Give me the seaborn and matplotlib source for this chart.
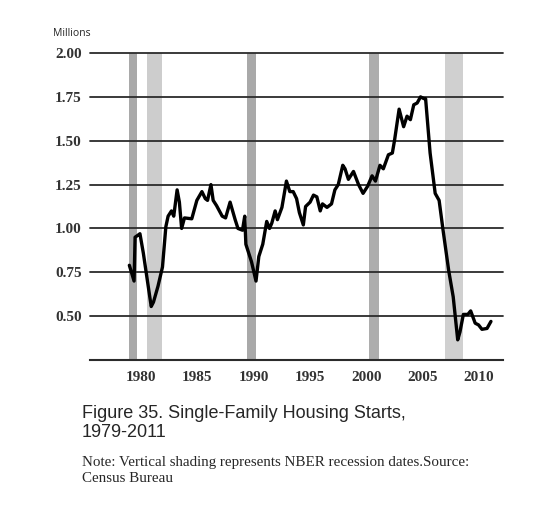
import numpy as np
import pandas as pd
import matplotlib
matplotlib.use("Agg")
import matplotlib.pyplot as plt
import seaborn as sns

# ==========================================
# DATA
# ==========================================
years = [1978.96, 1979.38, 1979.47, 1979.8, 1979.9, 1980.2, 1980.9, 1981.1, 1981.5,
         1981.9, 1982.2, 1982.4, 1982.7, 1982.9, 1983.2, 1983.4, 1983.6, 1983.85,
         1984.5, 1984.95, 1985.4, 1985.7, 1985.9, 1986.2, 1986.4, 1986.7, 1987.2,
         1987.5, 1987.9, 1988.35, 1988.6, 1989.0, 1989.2, 1989.3, 1989.8, 1990.2,
         1990.45, 1990.8, 1991.15, 1991.4, 1991.6, 1991.9, 1992.1, 1992.5, 1992.9,
         1993.2, 1993.5, 1993.8, 1994.05, 1994.4, 1994.6, 1995.0, 1995.3, 1995.6,
         1995.9, 1996.1, 1996.5, 1996.9, 1997.2, 1997.5, 1997.9, 1998.1, 1998.4,
         1998.85, 1999.3, 1999.7, 2000.1, 2000.5, 2000.8, 2001.2, 2001.5, 2001.95,
         2002.3, 2002.5, 2002.9, 2003.3, 2003.6, 2003.9, 2004.2, 2004.5, 2004.8,
         2005.1, 2005.25, 2005.65, 2006.1, 2006.45, 2006.8, 2007.3, 2007.7, 2008.1,
         2008.3, 2008.6, 2009.0, 2009.25, 2009.65, 2009.95, 2010.25, 2010.7, 2011.05]
starts = [0.79, 0.70, 0.95, 0.965, 0.97, 0.86, 0.555, 0.58, 0.67,
          0.78, 1.01, 1.07, 1.10, 1.07, 1.22, 1.15, 1.00, 1.06,
          1.055, 1.16, 1.21, 1.17, 1.16, 1.25, 1.16, 1.13, 1.07,
          1.06, 1.15, 1.05, 1.00, 0.99, 1.07, 0.91, 0.81, 0.70,
          0.84, 0.91, 1.04, 1.00, 1.03, 1.10, 1.05, 1.12, 1.27,
          1.21, 1.21, 1.17, 1.09, 1.02, 1.125, 1.15, 1.19, 1.18,
          1.10, 1.14, 1.12, 1.14, 1.22, 1.25, 1.36, 1.34, 1.28,
          1.325, 1.25, 1.20, 1.24, 1.30, 1.27, 1.36, 1.34, 1.42,
          1.43, 1.505, 1.68, 1.58, 1.64, 1.62, 1.705, 1.715, 1.75,
          1.74, 1.74, 1.43, 1.20, 1.16, 0.99, 0.76, 0.61, 0.365,
          0.41, 0.51, 0.51, 0.53, 0.46, 0.45, 0.425, 0.43, 0.47]

recession_start = [1978.94, 1980.51, 1989.38, 2000.26, 2006.97]
recession_end = [1979.62, 1981.84, 1990.20, 2001.15, 2008.60]
recession_shade = ["#a9a9a9", "#cdcdcd", "#a9a9a9", "#adadad", "#d0d0d0"]

y_ticks = [0.50, 0.75, 1.00, 1.25, 1.50, 1.75, 2.00]
x_ticks = [1980, 1985, 1990, 1995, 2000, 2005, 2010]

df = pd.DataFrame({"year": years, "starts": starts})

# ==========================================
# PLOT
# ==========================================
sns.set_style("white")
plt.rcParams["font.family"] = ["Liberation Serif", "DejaVu Serif"]

fig = plt.figure(figsize=(5.56, 5.05), dpi=100)
ax = fig.add_axes([0.1619, 0.2871, 0.7428, 0.6079])

for s, e, c in zip(recession_start, recession_end, recession_shade):
    ax.axvspan(s, e, color=c, lw=0, zorder=1)

for v in y_ticks:
    ax.axhline(v, color="#2b2b2b", lw=1.3, zorder=2, clip_on=False)

sns.lineplot(data=df, x="year", y="starts", color="black", lw=2.4, ax=ax, zorder=3)

ax.set_xlim(1975.47, 2012.12)
ax.set_ylim(0.25, 2.00)
ax.set_xticks(x_ticks)
ax.set_yticks(y_ticks)
ax.set_yticklabels([f"{v:.2f}" for v in y_ticks])
ax.set_xlabel("")
ax.set_ylabel("")

for side in ["top", "right", "left"]:
    ax.spines[side].set_visible(False)
ax.spines["bottom"].set_color("#2b2b2b")
ax.spines["bottom"].set_linewidth(1.5)

ax.tick_params(axis="x", direction="in", length=5, width=1.2, color="#2b2b2b",
               pad=8, labelsize=11, labelcolor="#333333")
ax.tick_params(axis="y", length=0, pad=6, labelsize=11, labelcolor="#333333")
for lab in ax.get_xticklabels() + ax.get_yticklabels():
    lab.set_fontweight("bold")

fig.text(53 / 556, 1 - 33 / 505, "Millions", family=["Open Sans", "DejaVu Sans"],
         fontsize=7.5, va="center", ha="left")

fig.text(82 / 556, 1 - 405 / 505, "Figure 35. Single-Family Housing Starts,\n1979-2011",
         family=["Liberation Sans", "DejaVu Sans"], fontsize=13, va="top", ha="left",
         linespacing=1.12)

fig.text(82 / 556, 1 - 456 / 505,
         "Note: Vertical shading represents NBER recession dates.Source:\nCensus Bureau",
         family=["Liberation Serif", "DejaVu Serif"], fontsize=10.8, va="top", ha="left",
         linespacing=1.25)

fig.savefig("out.png", dpi=100)
